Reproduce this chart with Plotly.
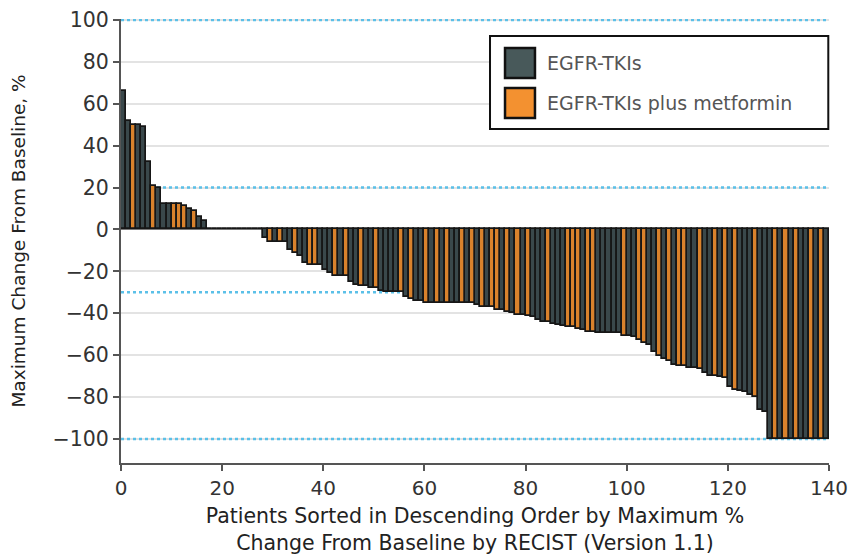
import plotly.graph_objects as go

# Maximum % change from baseline, patients sorted descending (one value per patient)
values = [66, 52, 50, 50, 49, 32, 21, 20, 12, 12, 12, 12, 11, 10, 9, 6, 4,
          0, 0, 0, 0, 0, 0, 0, 0, 0, 0, 0,
          -4, -6, -6, -6, -6, -10, -11, -12.5, -16, -17, -17, -17, -19.5,
          -21, -22, -22, -22, -25, -26.5, -27, -27, -28, -28,
          -29.5, -30, -30, -30, -30, -32, -33, -34, -34,
          -35, -35, -35, -35, -35, -35, -35, -35, -35, -35,
          -36, -37, -37, -37, -38.5, -38.5, -39.5, -40, -41, -41,
          -41.5, -42, -43, -44, -44, -45, -45.5, -46, -46.5, -46.5,
          -47.5, -48, -49, -49, -49.5, -49.5, -49.5, -49.5, -49.5,
          -51, -51, -51.5, -53, -54, -55, -58.5, -60.5, -62, -63,
          -64.5, -65, -65, -66, -66, -66.5, -68.5, -70, -70, -70.5, -71,
          -75, -76.5, -77, -77.5, -79, -80, -86, -87,
          -100, -100, -100, -100, -100, -100, -100, -100, -100, -100, -100, -100]

# indices of patients treated with EGFR-TKIs plus metformin
metformin_idx = [2, 6, 10, 11, 12, 14, 29, 31, 34, 37, 38, 42, 44, 47, 50, 55, 57,
                 60, 62, 64, 67, 69, 71, 73, 74, 76, 78, 80, 84, 88, 89, 90, 92,
                 93, 99, 102, 103, 106, 108, 110, 111, 114, 117, 119, 121, 125,
                 129, 131, 133, 136, 138]

series_names = ["EGFR-TKIs", "EGFR-TKIs plus metformin"]
colors = ["#3a484b", "#d9822c"]
legend_colors = ["#48595a", "#f39130"]

x_ticks = [0, 20, 40, 60, 80, 100, 120, 140]
y_ticks = [-100, -80, -60, -40, -20, 0, 20, 40, 60, 80, 100]
ref_lines = [100, 20, -30, -100]

pos = [i + 0.5 for i in range(len(values))]
met = set(metformin_idx)

fig = go.Figure()
for g, (name, col) in enumerate(zip(series_names, colors)):
    xs = [p for i, p in enumerate(pos) if (i in met) == (g == 1)]
    ys = [v for i, v in enumerate(values) if (i in met) == (g == 1)]
    fig.add_trace(go.Bar(x=xs, y=ys, width=1,
                         marker=dict(color=col, line=dict(color="#161616", width=1.7)),
                         name=name, showlegend=False))

for yv in ref_lines:
    fig.add_shape(type="line", xref="x", yref="y", x0=0, x1=140, y0=yv, y1=yv,
                  line=dict(color="#5bc0e8", width=2.5, dash="dot"), layer="between")

# legend box (drawn manually to match the large square swatches)
fig.add_shape(type="rect", xref="paper", yref="paper", x0=0.5212, x1=0.999, y0=0.752, y1=0.9617,
              line=dict(color="#111111", width=2), fillcolor="white", layer="above")
legend_rows = [(0.8671, 0.9347), (0.777, 0.8446)]
for (y0, y1), name, col in zip(legend_rows, series_names, legend_colors):
    fig.add_shape(type="rect", xref="paper", yref="paper", x0=0.5424, x1=0.5847, y0=y0, y1=y1,
                  line=dict(color="#111111", width=2.5), fillcolor=col, layer="above")
    fig.add_annotation(xref="paper", yref="paper", x=0.599, y=(y0 + y1) / 2, text=name,
                       showarrow=False, xanchor="left", yanchor="middle",
                       font=dict(size=19, color="#555555"))

font_family = "DejaVu Sans, Verdana, sans-serif"

fig.update_layout(
    width=853, height=555,
    margin=dict(l=121, r=24, t=19, b=92),
    paper_bgcolor="white", plot_bgcolor="white",
    barmode="overlay", bargap=0,
    showlegend=False,
    font=dict(family=font_family, size=20, color="#333333"),
    xaxis=dict(range=[0, 140], tickvals=x_ticks, showgrid=False, zeroline=False, automargin=False,
               showline=True, linecolor="#555555", linewidth=2,
               ticks="outside", ticklen=6, tickcolor="#555555", tickwidth=2,
               tickfont=dict(size=20, color="#333333"),
               title=dict(text="Patients Sorted in Descending Order by Maximum %<br>Change From Baseline by RECIST (Version 1.1)",
                          font=dict(size=20.5, color="#222222"), standoff=20)),
    yaxis=dict(range=[-111.5, 100.5], tickvals=y_ticks, showgrid=True, gridcolor="#e3e3e3", gridwidth=2,
               zeroline=True, zerolinecolor="#777777", zerolinewidth=2, automargin=False,
               showline=True, linecolor="#555555", linewidth=2,
               ticks="outside", ticklen=6, tickcolor="#555555", tickwidth=2,
               tickfont=dict(size=20.5, color="#333333"),
               title=dict(text="Maximum Change From Baseline, %", font=dict(size=18.5, color="#222222"), standoff=22)),
)

fig.write_html("out.html")
